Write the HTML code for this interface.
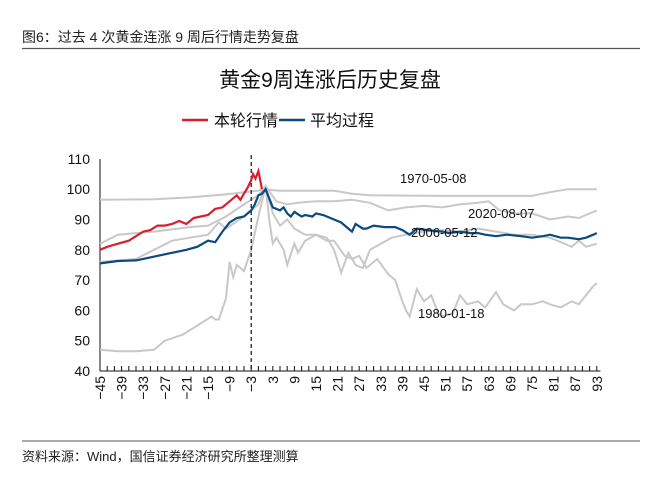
<!DOCTYPE html>
<html><head><meta charset="utf-8"><style>
body{margin:0;background:#fff;width:654px;height:487px;overflow:hidden;font-family:"Liberation Sans","Noto Sans CJK SC",sans-serif}
</style></head><body>
<svg id="s" width="654" height="487" xmlns="http://www.w3.org/2000/svg" font-family="Liberation Sans, Noto Sans CJK SC, sans-serif">
<text x="22" y="42" font-size="14" fill="#222">图6：过去 4 次黄金连涨 9 周后行情走势复盘</text>
<line x1="22" y1="48.5" x2="640" y2="48.5" stroke="#555" stroke-width="1.2"/>
<text x="330" y="87" font-size="21" text-anchor="middle" fill="#111">黄金9周连涨后历史复盘</text>
<line x1="182" y1="120" x2="208" y2="120" stroke="#d7202e" stroke-width="2.5"/>
<text x="214" y="126" font-size="16" fill="#111">本轮行情</text>
<line x1="279" y1="120" x2="305" y2="120" stroke="#0a4a80" stroke-width="2.5"/>
<text x="310" y="126" font-size="16" fill="#111">平均过程</text>
<g id="axes" font-size="14" fill="#111"></g>
<g id="lines"></g>
<text x="400" y="183" font-size="13" fill="#111">1970-05-08</text>
<text x="468" y="218" font-size="13" fill="#111">2020-08-07</text>
<text x="411" y="237" font-size="13" fill="#111">2006-05-12</text>
<text x="418" y="318" font-size="13" fill="#111">1980-01-18</text>
<line x1="22" y1="441" x2="640" y2="441" stroke="#555" stroke-width="1"/>
<text x="22" y="461" font-size="13" fill="#222">资料来源：Wind，国信证券经济研究所整理测算</text>
</svg>
<script>
var NS="http://www.w3.org/2000/svg";
function X(t){return 100+(t+45)*3.6}
function Y(v){return 371-(v-40)*3.03}
function el(n,a,p,txt){var e=document.createElementNS(NS,n);for(var k in a)e.setAttribute(k,a[k]);if(txt)e.textContent=txt;document.getElementById(p).appendChild(e);return e}
function interp(k){var out=[];for(var i=0;i<k.length-1;i+=2){out.push(X(k[i]).toFixed(1)+","+Y(k[i+1]).toFixed(1))}return out.join(" ")}
el("line",{x1:100,y1:159,x2:100,y2:371,stroke:"#111","stroke-width":1},"axes");
el("line",{x1:100,y1:371,x2:X(94),y2:371,stroke:"#111","stroke-width":1},"axes");
for(var v=40;v<=110;v+=10){el("text",{x:90,y:Y(v)+5,"text-anchor":"end"},"axes",""+v)}
for(var t=-45;t<=94;t+=2){el("line",{x1:X(t),y1:371,x2:X(t),y2:366,stroke:"#111","stroke-width":1},"axes")}
for(var t=-45;t<=93;t+=6){var x=X(t)+5;el("text",{x:0,y:0,transform:"translate("+x+",376) rotate(-90)","text-anchor":"end"},"axes",(t<0?"\u2212"+(-t):""+t))}
var g="#c8c8c8";
var grey=[
[-45,96.5,-30,96.7,-20,97.3,-10,98.3,-5,99,-1,99.5,0,100,5,99.5,20,99.5,25,98.5,30,98,50,97.8,75,97.8,80,99,85,100,90,100,93,100],
[-45,82,-40,85,-30,86,-20,87.5,-15,88,-10,91,-5,95,-1,98,1,101,4,96,7,95,10,95.5,15,96,20,96,25,96.5,30,95.5,35,93,40,94,45,94.5,50,94,55,95,60,95.5,63,96,66,93,70,92,75,92,80,90,85,91,88,90.5,90,91.5,93,93],
[-45,76,-35,77,-30,80,-25,83,-20,84,-15,85,-12,89,-10,87,-5,91,-1,95,1,101,3,92,5,88,7,90,9,87,12,85,15,85,18,84,20,80,22,72.5,24,79,26,75,28,74,30,80,33,82,36,84,40,85,45,86,50,86.5,55,86,60,87,65,86,70,85,75,85,80,84,84,82,86,81,88,83,90,81,93,82],
[-45,47,-40,46.5,-35,46.5,-30,47,-27,50,-22,52,-18,55,-14,58,-13,57,-12,57,-10,64,-9,76,-8,71,-7,75,-5,73,-3,80,-1,91,1,101,2,90,3,82,4,84,6,80,7,75,9,82,10,79,12,83,15,85,18,83,20,83,23,78,25,77,27,78,29,74,32,77,35,72,37,70,39,63,40,60,41,58,43,67,45,63,47,65,49,59,50,58,53,59,55,65,57,62,60,63,62,61,65,66,67,62,70,60,72,62,75,62,78,63,80,62,83,61,86,63,88,62,90,65,92,68,93,69]];
grey.forEach(function(k){el("polyline",{points:interp(k),fill:"none",stroke:g,"stroke-width":2},"lines")});
el("line",{x1:X(-3),y1:155,x2:X(-3),y2:371,stroke:"#111","stroke-width":1.2,"stroke-dasharray":"4,3"},"lines");
var blue=[-45,75.5,-40,76.3,-35,76.5,-33,77,-27,78.5,-21,80,-18,81,-15,83,-13,82.5,-11,86,-9,89,-7,90.5,-5,91,-3,93,-2,95,-1,98,0,98.5,1,100,2,97,3,94,5,93,6,94,7,92,8,91,9,92.5,11,91,12,91.5,14,91,15,92,17,91.5,18,91,20,90,22,89,24,87,25,86,26,88.5,28,87,29,87,31,88,34,87.5,37,87.5,39,86.5,41,85,43,87,46,86.5,50,86,52,85.5,55,86,58,85.5,60,85.5,62,85,65,84.5,68,85,72,84.5,75,84,78,84.5,80,85,83,84,85,84,88,83.5,90,84,92,85,93,85.5];
el("polyline",{points:interp(blue),fill:"none",stroke:"#0a4a80","stroke-width":2.2},"lines");
var red=[-45,80,-43,81,-40,82,-37,83,-35,84.5,-33,86,-31,86.5,-29,88,-27,88,-25,88.5,-23,89.5,-21,88.5,-19,90.5,-17,91,-15,91.5,-13,93.5,-11,94,-9,96,-8,97,-7,98,-6,96.5,-5,98.5,-4,100.5,-3,103,-2.5,105,-1.8,103.5,-1,106,-0.5,103,0,100];
el("polyline",{points:interp(red),fill:"none",stroke:"#d7202e","stroke-width":2.2},"lines");
</script>
</body></html>
